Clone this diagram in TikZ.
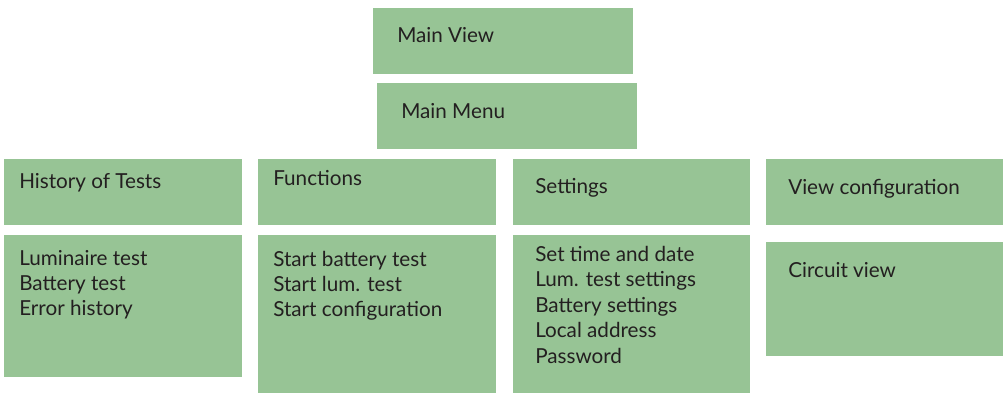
\documentclass[tikz,border=0pt]{standalone}
\usepackage{fontspec}
\setmainfont{Lato}
\definecolor{boxgreen}{HTML}{97C495}
\definecolor{txt}{HTML}{231F20}
\begin{document}
\begin{tikzpicture}[x=0.75pt,y=-0.75pt,
  box/.style={fill=boxgreen,draw=none,anchor=north west,inner sep=0pt,outer sep=0pt},
  lbl/.style={anchor=base west,inner sep=0pt,text=txt,font=\fontsize{15.5}{18}\selectfont}]
\useasboundingbox (0,0) rectangle (1008,393);
% boxes (width x height in px, 0.75pt each)
\node[box,minimum width=195pt,minimum height=49.5pt] (bmv) at (373,8) {};
\node[box,minimum width=195pt,minimum height=49.5pt] (bmm) at (377,83) {};
\node[box,minimum width=178.5pt,minimum height=49.5pt] (bht) at (4,159) {};
\node[box,minimum width=178.5pt,minimum height=106.5pt] (bhl) at (4,235) {};
\node[box,minimum width=178.5pt,minimum height=49.5pt] (bfn) at (258,159) {};
\node[box,minimum width=178.5pt,minimum height=118.5pt] (bfl) at (258,235) {};
\node[box,minimum width=177.75pt,minimum height=49.5pt] (bst) at (513,159) {};
\node[box,minimum width=177.75pt,minimum height=118.5pt] (bsl) at (513,235) {};
\node[box,minimum width=177.75pt,minimum height=49.5pt] (bvc) at (766,159) {};
\node[box,minimum width=177.75pt,minimum height=85.5pt] (bcv) at (766,242) {};
% labels
\node[lbl] (mv) at (397,42) {Main View};
\node[lbl] (mm) at (401,118) {Main Menu};
\node[lbl] (ht) at (19,188) {History of Tests};
\node[lbl] (fn) at (273,185) {Functions};
\node[lbl] (st) at (535,193) {Settings};
\node[lbl] (vc) at (788,194) {View configuration};
\node[lbl] (h1) at (19,265) {Luminaire test};
\node[lbl] (h2) at (19,290) {Battery test};
\node[lbl] (h3) at (19,315) {Error history};
\node[lbl] (f1) at (273,266) {Start battery test};
\node[lbl] (f2) at (273,291) {Start lum. test};
\node[lbl] (f3) at (273,316) {Start configuration};
\node[lbl] (s1) at (535,261) {Set time and date};
\node[lbl] (s2) at (535,286.5) {Lum. test settings};
\node[lbl] (s3) at (535,312) {Battery settings};
\node[lbl] (s4) at (535,337.5) {Local address};
\node[lbl] (s5) at (535,363) {Password};
\node[lbl] (cv) at (788,277) {Circuit view};
\end{tikzpicture}
\end{document}
